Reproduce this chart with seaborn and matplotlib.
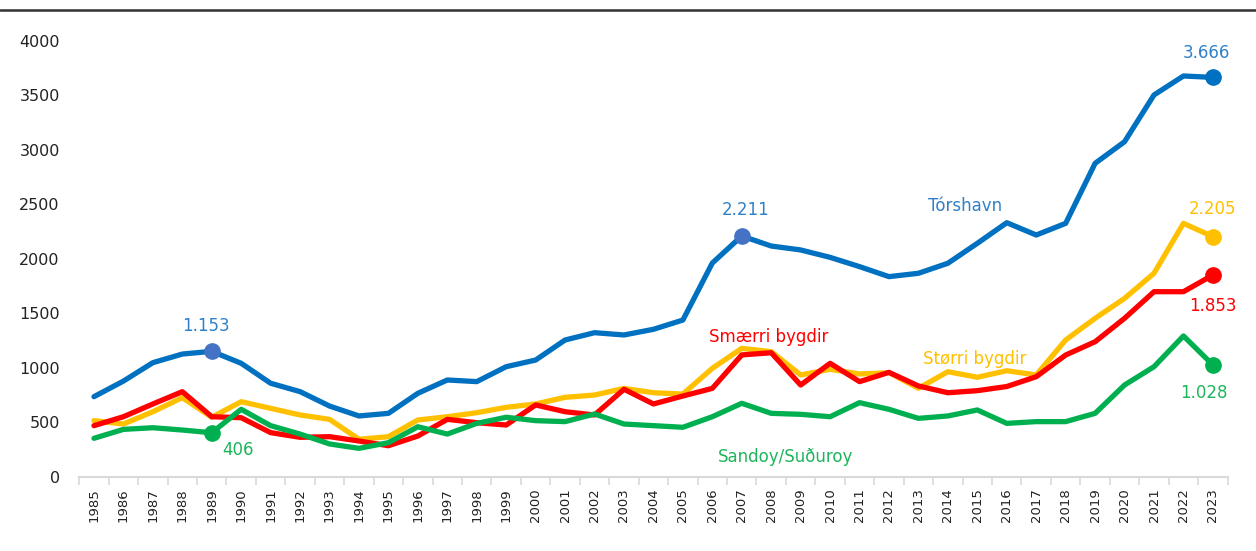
"""
Yearly series for four Faroese areas, 1985-2023, redrawn as a seaborn line chart.
"""

import pandas as pd
import matplotlib
matplotlib.use("Agg")
import matplotlib.pyplot as plt
from matplotlib.lines import Line2D
import seaborn as sns

BLUE   = "#0070C0"
YELLOW = "#FFC000"
RED    = "#FF0000"
GREEN  = "#00B050"
MARK_BLUE = "#4472C4"
TXT_BLUE  = "#2F80C9"
TXT_GREEN = "#1DB55C"

YEARS = list(range(1985, 2024))

TORSHAVN = [737, 880, 1049, 1128, 1153, 1043, 860, 783, 651, 560,
            584, 768, 890, 875, 1012, 1073, 1257, 1324, 1303, 1355,
            1440, 1963, 2211, 2119, 2083, 2015, 1930, 1838, 1869, 1961,
            2144, 2333, 2220, 2327, 2878, 3076, 3505, 3679, 3666]
STORRI = [517, 486, 599, 728, 548, 691, 630, 569, 529, 346,
          370, 523, 553, 590, 639, 670, 731, 752, 813, 773,
          761, 997, 1180, 1150, 936, 988, 945, 957, 814, 966,
          915, 975, 936, 1257, 1456, 1639, 1869, 2327, 2205]
SMAERRI = [471, 553, 670, 783, 553, 544, 407, 364, 370, 330,
           287, 376, 529, 498, 477, 661, 599, 569, 805, 670,
           743, 813, 1120, 1140, 844, 1043, 875, 960, 835, 773,
           792, 830, 920, 1119, 1241, 1456, 1700, 1700, 1853]
SANDOY = [355, 437, 452, 431, 406, 621, 471, 394, 303, 263,
          315, 461, 394, 492, 548, 517, 508, 578, 486, 471,
          456, 553, 676, 584, 575, 553, 682, 621, 538, 560,
          615, 492, 508, 508, 584, 844, 1012, 1294, 1028]

SERIES = ["Tórshavn", "Størri bygdir", "Smærri bygdir", "Sandoy/Suðuroy"]
COLORS = [BLUE, YELLOW, RED, GREEN]

df = pd.DataFrame({
    "year": YEARS * 4,
    "value": TORSHAVN + STORRI + SMAERRI + SANDOY,
    "series": sum([[s] * len(YEARS) for s in SERIES], []),
})

sns.set_style("white")
plt.rcParams["font.family"] = ["DejaVu Sans"]

fig = plt.figure(figsize=(12.56, 5.51), dpi=100)
ax = fig.add_axes([0.0631, 0.1343, 0.9143, 0.7913])

sns.lineplot(data=df, x="year", y="value", hue="series", hue_order=SERIES,
             palette=dict(zip(SERIES, COLORS)), linewidth=3.8, legend=False,
             ax=ax, solid_joinstyle="round", solid_capstyle="round")

ax.set_xlim(1984.5, 2023.5)
ax.set_ylim(0, 4000)
ax.set_yticks(range(0, 4001, 500))
ax.set_xticks(YEARS)
ax.set_xticklabels([str(y) for y in YEARS], rotation=90, fontsize=9.5, color="#222222")
ax.set_xticks([y + 0.5 for y in [1984] + YEARS], minor=True)
ax.tick_params(axis="x", which="major", bottom=True, length=0, pad=8)
ax.tick_params(axis="x", which="minor", bottom=True, length=6, width=1.2, color="#D9D9D9")
ax.tick_params(axis="y", length=0, pad=14, labelsize=11.5, labelcolor="#222222")
ax.set_xlabel("")
ax.set_ylabel("")
for side in ["top", "right", "left"]:
    ax.spines[side].set_visible(False)
ax.spines["bottom"].set_color("#D9D9D9")
ax.spines["bottom"].set_linewidth(1.5)

# highlighted points
ax.plot([1989, 2007], [TORSHAVN[4], TORSHAVN[22]], "o", ms=11, color=MARK_BLUE, clip_on=False, zorder=5)
ax.plot([1989], [SANDOY[4]], "o", ms=11, color=GREEN, clip_on=False, zorder=5)
for vals, col in zip([TORSHAVN, STORRI, SMAERRI, SANDOY], COLORS):
    ax.plot([2023], [vals[-1]], "o", ms=11, color=col, clip_on=False, zorder=5)

def lab(text, x, y, dx, dy, color, **kw):
    ax.annotate(text, (x, y), xytext=(dx * 0.72, dy * 0.72), textcoords="offset points",
                ha="center", va="center", fontsize=12, color=color, **kw)

lab("1.153", 1989, TORSHAVN[4], -6, 25, TXT_BLUE)
lab("2.211", 2007, TORSHAVN[22], 4, 26, TXT_BLUE,
    arrowprops=dict(arrowstyle="-", color="#A6A6A6", lw=1.2, shrinkA=6, shrinkB=2))
lab("3.666", 2023, TORSHAVN[-1], -7, 24, TXT_BLUE)
lab("2.205", 2023, STORRI[-1], 0, 28, YELLOW)
lab("1.853", 2023, SMAERRI[-1], 0, -31, RED)
lab("1.028", 2023, SANDOY[-1], -9, -28, TXT_GREEN)
lab("406", 1989, SANDOY[4], 26, -17, TXT_GREEN)

ax.text(2014.6, 2486, "Tórshavn", color=TXT_BLUE, fontsize=12, ha="center", va="center")
ax.text(2007.9, 1284, "Smærri bygdir", color=RED, fontsize=12, ha="center", va="center")
ax.text(2014.9, 1083, "Størri bygdir", color=YELLOW, fontsize=12, ha="center", va="center")
ax.text(2008.5, 183, "Sandoy/Suðuroy", color=TXT_GREEN, fontsize=12, ha="center", va="center")

# rule under the (cropped) title
fig.add_artist(Line2D([0, 1], [1 - 9.5 / 551] * 2, color="#333333", lw=1.8,
                      transform=fig.transFigure))

fig.savefig("out.png", dpi=100, facecolor="white")
